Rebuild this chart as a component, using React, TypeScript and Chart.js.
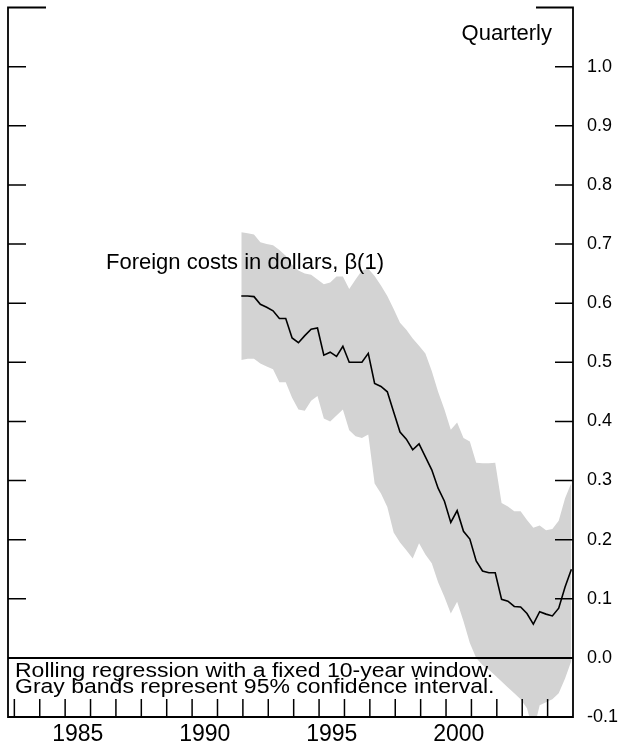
import React, { useEffect, useRef } from "react";
import { Chart, registerables } from "chart.js";

Chart.register(...registerables);

// ---- data ----
const startYear = 1991;
const startQuarter = 4;

const coefficient = [
  0.612, 0.612, 0.611, 0.598, 0.593, 0.587, 0.574, 0.574, 0.541, 0.533,
  0.545, 0.556, 0.558, 0.512, 0.517, 0.510, 0.527, 0.500, 0.500, 0.500,
  0.515, 0.464, 0.459, 0.450, 0.416, 0.382, 0.370, 0.352, 0.362, 0.340,
  0.318, 0.287, 0.265, 0.229, 0.249, 0.214, 0.201, 0.164, 0.147, 0.144,
  0.144, 0.099, 0.096, 0.087, 0.086, 0.075, 0.057, 0.078, 0.074, 0.071,
  0.084, 0.120, 0.150,
];

const upperBand = [
  0.720, 0.718, 0.716, 0.703, 0.700, 0.698, 0.690, 0.680, 0.665, 0.655,
  0.650, 0.648, 0.640, 0.632, 0.635, 0.645, 0.645, 0.624, 0.640, 0.655,
  0.658, 0.646, 0.630, 0.612, 0.590, 0.567, 0.555, 0.540, 0.528, 0.515,
  0.485, 0.450, 0.420, 0.386, 0.398, 0.372, 0.366, 0.330, 0.329, 0.329,
  0.330, 0.262, 0.256, 0.248, 0.248, 0.233, 0.220, 0.224, 0.216, 0.218,
  0.232, 0.270, 0.296,
];

const lowerBand = [
  0.504, 0.506, 0.506, 0.498, 0.493, 0.488, 0.466, 0.466, 0.440, 0.420,
  0.418, 0.435, 0.443, 0.405, 0.400, 0.410, 0.420, 0.385, 0.375, 0.372,
  0.378, 0.295, 0.278, 0.255, 0.212, 0.195, 0.182, 0.168, 0.194, 0.175,
  0.160, 0.128, 0.103, 0.075, 0.095, 0.062, 0.025, 0.000, -0.012, -0.020,
  -0.030, -0.040, -0.050, -0.060, -0.070, -0.085, -0.125, -0.080, -0.075, -0.070,
  -0.060, -0.035, -0.005,
];

const yTickValues = [-0.1, 0.0, 0.1, 0.2, 0.3, 0.4, 0.5, 0.6, 0.7, 0.8, 0.9, 1.0];
const yMarkValues = [0.1, 0.2, 0.3, 0.4, 0.5, 0.6, 0.7, 0.8, 0.9, 1.0];
const xLabelYears = [1985, 1990, 1995, 2000];
const xTickYears = [
  1983, 1984, 1985, 1986, 1987, 1988, 1989, 1990, 1991, 1992, 1993,
  1994, 1995, 1996, 1997, 1998, 1999, 2000, 2001, 2002, 2003, 2004,
];
const xMin = 1982.75;
const xMax = 2005.0;
const yMin = -0.1;
const yMax = 1.1;

const frequencyText = "Quarterly";
const seriesText = "Foreign costs in dollars, \u03b2(1)";
const noteLines = [
  "Rolling regression with a fixed 10-year window.",
  "Gray bands represent 95% confidence interval.",
];

const FONT = "'Liberation Sans', Arial, Helvetica, sans-serif";

function quarterPosition(i: number): number {
  const q = startQuarter - 1 + i;
  const year = startYear + Math.floor(q / 4);
  return year + ((q % 4) + 0.75) / 4;
}

const toPoints = (arr: number[]) => arr.map((v, i) => ({ x: quarterPosition(i), y: v }));

const overlayPlugin = {
  id: "overlay",
  afterDraw(chart: any) {
    const { ctx, chartArea } = chart;
    const xs = chart.scales.x;
    const ys = chart.scales.y;
    const { left, right, top, bottom } = chartArea;
    const tickLen = 18;
    ctx.save();
    ctx.strokeStyle = "#000";
    ctx.lineCap = "butt";

    // zero line
    ctx.lineWidth = 2;
    const y0 = ys.getPixelForValue(0);
    ctx.beginPath();
    ctx.moveTo(left, y0);
    ctx.lineTo(right, y0);
    ctx.stroke();

    // y tick marks (inward, both sides)
    ctx.lineWidth = 1.5;
    yMarkValues.forEach((v) => {
      const py = ys.getPixelForValue(v);
      ctx.beginPath();
      ctx.moveTo(left, py);
      ctx.lineTo(left + tickLen, py);
      ctx.moveTo(right - tickLen, py);
      ctx.lineTo(right, py);
      ctx.stroke();
    });

    // x tick marks (upward)
    xTickYears.forEach((yr) => {
      const px = xs.getPixelForValue(yr);
      ctx.beginPath();
      ctx.moveTo(px, bottom);
      ctx.lineTo(px, bottom - tickLen);
      ctx.stroke();
    });

    // frame
    ctx.lineWidth = 1.8;
    ctx.beginPath();
    ctx.moveTo(left + 38, top);
    ctx.lineTo(left, top);
    ctx.lineTo(left, bottom);
    ctx.lineTo(right, bottom);
    ctx.lineTo(right, top);
    ctx.lineTo(right - 37, top);
    ctx.stroke();

    // texts
    ctx.fillStyle = "#000";
    ctx.textBaseline = "alphabetic";
    ctx.font = `22px ${FONT}`;
    ctx.textAlign = "right";
    ctx.fillText(frequencyText, 552, 40);
    ctx.textAlign = "left";
    ctx.fillText(seriesText, 106, 269);

    ctx.font = `23px ${FONT}`;
    const baselines = [677, 693];
    noteLines.forEach((line, i) => {
      ctx.save();
      ctx.translate(15, baselines[i]);
      ctx.scale(1, 0.88);
      ctx.fillText(line, 0, 0);
      ctx.restore();
    });
    ctx.restore();
  },
};

export default function App() {
  const canvasRef = useRef<HTMLCanvasElement | null>(null);

  useEffect(() => {
    if (!canvasRef.current) return;
    const chart = new Chart(canvasRef.current, {
      type: "line",
      data: {
        datasets: [
          {
            label: "beta",
            data: toPoints(coefficient),
            borderWidth: 1.6,
            borderColor: "#000",
            pointRadius: 0,
            fill: false,
            tension: 0,
          },
          {
            label: "upper",
            data: toPoints(upperBand),
            borderWidth: 0,
            borderColor: "rgba(0,0,0,0)",
            backgroundColor: "rgb(211,211,211)",
            pointRadius: 0,
            fill: "+1",
            tension: 0,
          },
          {
            label: "lower",
            data: toPoints(lowerBand),
            borderWidth: 0,
            borderColor: "rgba(0,0,0,0)",
            pointRadius: 0,
            fill: false,
            tension: 0,
          },
        ],
      },
      options: {
        animation: false,
        responsive: true,
        maintainAspectRatio: false,
        layout: { padding: { left: 8, top: 7.5, right: 0, bottom: 0 } },
        plugins: {
          legend: { display: false },
          tooltip: { enabled: false },
        },
        scales: {
          x: {
            type: "linear",
            position: "bottom",
            min: xMin,
            max: xMax,
            grid: { display: false, drawTicks: false },
            border: { display: false },
            ticks: {
              autoSkip: false,
              maxRotation: 0,
              padding: 4,
              color: "#000",
              font: { size: 23, family: FONT },
              callback: (v: any) => String(Math.floor(Number(v))),
            },
            afterBuildTicks: (s: any) => {
              s.ticks = xLabelYears.map((y) => ({ value: y + 0.5 }));
            },
            afterFit: (s: any) => {
              s.height = 30;
              s.paddingLeft = 0;
              s.paddingRight = 0;
            },
          },
          y: {
            type: "linear",
            position: "right",
            min: yMin,
            max: yMax,
            grid: { display: false, drawTicks: false },
            border: { display: false },
            ticks: {
              padding: 14,
              color: "#000",
              font: { size: 18, family: FONT },
              callback: (v: any) => Number(v).toFixed(1),
            },
            afterBuildTicks: (s: any) => {
              s.ticks = yTickValues.map((v) => ({ value: v }));
            },
            afterFit: (s: any) => {
              s.width = 50;
              s.paddingTop = 0;
              s.paddingBottom = 0;
            },
          },
        },
      },
      plugins: [overlayPlugin],
    });
    return () => chart.destroy();
  }, []);

  return (
    <div style={{ position: "fixed", left: 0, top: 0, width: 623, height: 747, background: "#fff" }}>
      <canvas ref={canvasRef} />
    </div>
  );
}
